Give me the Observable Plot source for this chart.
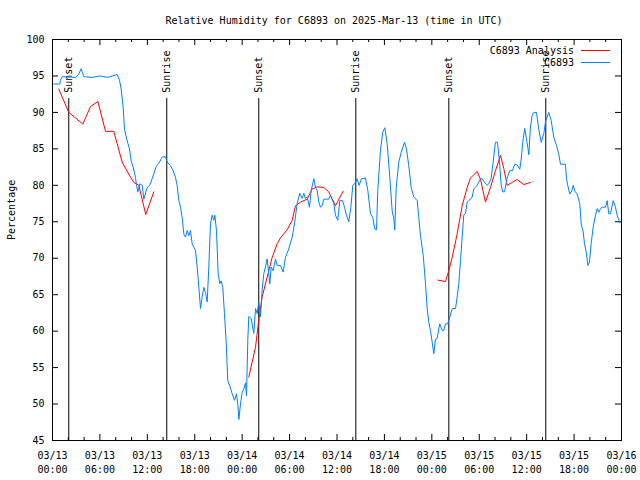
<!DOCTYPE html>
<html>
<head>
<meta charset="utf-8">
<script src="https://cdn.jsdelivr.net/npm/d3@7"></script>
<script src="https://cdn.jsdelivr.net/npm/@observablehq/plot@0.6"></script>
<style>
  html, body { margin: 0; padding: 0; background: #fff; }
  #chart { width: 640px; height: 480px; }
</style>
</head>
<body>
<div id="chart"></div>
<script>
// ---------- data (hours after 2025-03-13 00:00 UTC) ----------
const titleText = "Relative Humidity for C6893 on 2025-Mar-13 (time in UTC)";
const yLabelText = "Percentage";
const seriesNames = ["C6893 Analysis", "C6893"];
const seriesColors = ["#ff0000", "#0080ff"];

const obsHours = [0.17,0.93,1.0,1.22,2.9,3.3,3.63,3.96,5.0,6.0,7.0,8.18,8.48,8.69,8.94,9.11,9.45,9.74,9.95,10.21,10.5,10.63,10.8,11.05,11.35,11.56,11.98,12.3,12.61,13.16,13.45,13.88,14.3,14.51,14.93,15.27,15.56,15.77,15.99,16.2,16.41,16.62,16.83,17.04,17.25,17.46,17.67,18.09,18.31,18.52,18.73,18.94,19.15,19.36,19.57,19.78,19.99,20.2,20.41,20.54,20.75,20.96,21.17,21.34,21.55,21.76,21.97,22.18,22.43,22.74,23.03,23.28,23.45,23.58,23.79,24.0,24.21,24.42,24.55,24.72,24.84,25.14,25.47,25.69,25.9,26.1,26.32,26.53,26.74,26.95,27.16,27.37,27.5,27.67,27.92,28.22,28.43,28.85,29.19,29.48,29.9,30.33,30.62,30.96,31.29,31.59,31.8,32.0,32.22,32.52,32.73,33.07,33.28,33.49,33.7,33.91,34.12,34.33,34.96,35.18,35.6,35.81,36.1,36.35,36.7,36.95,37.2,37.49,37.75,38.0,38.3,38.55,38.8,39.1,39.6,39.9,40.24,40.53,40.78,41.0,41.16,41.5,41.79,42.05,42.35,42.68,42.98,43.19,43.31,43.49,43.82,44.12,44.54,44.79,45.08,45.39,45.72,46.15,46.35,46.56,46.91,47.2,47.41,47.62,47.83,48.04,48.25,48.46,48.67,49.0,49.31,49.52,49.73,50.0,50.27,50.58,51.0,51.21,51.41,51.63,51.84,52.04,52.25,52.47,52.8,53.11,53.31,53.74,54.16,54.37,54.6,55.0,55.2,55.5,55.76,56.05,56.3,56.56,56.78,56.98,57.2,57.53,57.86,58.2,58.5,58.8,59.13,59.31,59.56,59.76,59.95,60.14,60.27,60.48,60.7,60.9,61.24,61.53,61.84,62.17,62.38,62.8,63.1,63.43,63.77,64.06,64.28,64.91,65.04,65.2,65.46,65.7,65.89,66.1,66.39,66.72,66.9,67.15,67.32,67.57,67.74,67.95,68.16,68.42,68.71,68.92,69.13,69.34,69.56,69.97,70.19,70.39,70.6,70.95,71.24,71.45,71.78,71.96];
const obsRH = [93.9,93.9,94.4,94.9,94.8,95.2,96.0,94.9,94.8,95.0,94.8,95.2,94.4,93.2,90.7,87.7,86.1,85.0,83.4,82.5,81.1,80.0,79.1,80.2,80.0,78.1,79.7,80.0,80.9,82.7,83.0,83.9,83.9,83.2,82.7,82.0,81.1,80.0,77.9,77.0,75.6,73.3,72.9,73.8,73.1,73.8,72.0,71.1,68.8,66.0,63.1,64.7,66.0,65.3,64.0,68.8,74.7,75.9,75.2,75.9,73.8,67.9,66.5,66.9,66.0,62.4,58.7,53.2,52.5,51.4,50.5,51.4,50.0,47.9,50.0,51.6,52.1,52.9,51.1,59.0,62.0,61.7,59.7,63.1,62.4,64.0,62.0,65.7,67.9,68.8,69.9,67.9,66.5,68.8,68.3,69.9,69.0,69.0,68.1,70.1,71.3,72.9,74.7,77.5,78.9,78.2,78.9,78.2,78.4,77.0,79.3,80.9,79.7,79.3,77.7,77.0,77.2,78.1,78.1,78.6,77.5,75.9,75.2,77.9,77.9,77.0,75.9,75.0,77.0,80.0,80.3,80.9,80.0,80.9,81.0,79.3,76.1,75.6,74.0,73.9,79.3,84.8,87.3,87.9,85.7,81.1,76.5,75.4,73.9,79.7,83.2,84.5,85.9,85.0,82.7,79.7,78.4,77.9,75.6,73.1,70.4,66.5,63.1,61.2,60.1,58.5,56.9,58.9,59.0,61.0,60.1,60.1,61.0,61.0,61.9,63.1,63.1,64.7,66.5,69.7,72.9,75.9,76.1,77.7,78.0,78.4,79.5,80.0,80.9,80.9,80.5,80.0,80.2,80.9,83.2,85.9,85.9,83.3,80.0,79.1,79.1,81.0,82.0,82.0,82.9,82.8,82.2,83.6,86.4,87.8,86.5,85.2,84.2,88.0,89.6,90.0,90.0,87.7,85.9,87.1,88.7,90.0,88.9,86.6,85.5,84.3,82.9,82.9,80.9,80.0,78.8,79.2,80.0,79.2,78.8,77.5,74.7,73.6,72.0,70.6,69.0,69.5,72.0,74.3,75.9,76.8,76.3,76.8,77.0,77.0,77.9,76.1,76.1,77.9,77.0,75.9,74.9,75.0];

const anaHours = [0.8,2.06,3.84,4.81,5.74,6.71,7.76,8.18,8.81,9.87,10.29,10.92,11.8,12.82,
  24.84,25.69,26.1,26.53,27.16,27.8,28.43,28.85,29.69,30.33,30.75,31.38,32.22,32.86,33.49,34.33,34.96,35.81,36.78,
  48.76,49.73,50.15,50.57,51.2,51.84,52.47,52.89,53.74,54.16,54.79,55.42,56.05,56.69,57.11,57.53,58.17,58.8,59.64,60.48,60.8];
const anaRH = [93.2,90.0,88.4,90.8,91.5,87.4,87.4,85.7,83.2,81.1,80.4,80.0,76.0,79.1,
  53.7,57.8,61.5,64.7,67.4,70.1,72.0,72.8,73.9,75.2,77.2,77.7,78.1,79.5,79.8,79.7,79.1,77.2,79.2,
  67.0,66.8,68.3,70.1,73.3,77.2,79.7,81.0,81.9,80.8,77.7,79.7,82.0,84.1,82.3,80.0,80.4,80.8,80.1,80.4,80.5];
const anaSegment = [1,1,1,1,1,1,1,1,1,1,1,1,1,1,
  2,2,2,2,2,2,2,2,2,2,2,2,2,2,2,2,2,2,2,
  3,3,3,3,3,3,3,3,3,3,3,3,3,3,3,3,3,3,3,3];

const eventHours = [2.06, 14.46, 26.1, 38.38, 50.15, 62.42];
const eventLabels = ["Sunset", "Sunrise", "Sunset", "Sunrise", "Sunset", "Sunrise"];

const xMajorHours = [0, 6, 12, 18, 24, 30, 36, 42, 48, 54, 60, 66, 72];
const xMinorHours = [2, 4, 8, 10, 14, 16, 20, 22, 26, 28, 32, 34, 38, 40, 44, 46, 50, 52, 56, 58, 62, 64, 68, 70];
const yTicks = [45, 50, 55, 60, 65, 70, 75, 80, 85, 90, 95, 100];

// ---------- layout ----------
const W = 640, H = 480;
const mL = 52, mR = 19, mT = 39, mB = 40;
const frameW = W - mL - mR, frameH = H - mT - mB;
const majorLen = 6, minorLen = 3;

// ---------- build ----------
const base = Date.UTC(2025, 2, 13, 0, 0, 0);
const toDate = h => new Date(base + h * 3600e3);

const obs = obsHours.map((h, i) => ({date: toDate(h), rh: obsRH[i]}));
const ana = anaHours.map((h, i) => ({date: toDate(h), rh: anaRH[i], seg: anaSegment[i]}));
const events = eventHours.map((h, i) => ({date: toDate(h), label: eventLabels[i]}));
const xMajor = xMajorHours.map(toDate);
const xMinor = xMinorHours.map(toDate);
const fmt = d3.utcFormat("%m/%d\n%H:%M");

const eventTop = 91.9;     // top of sunrise/sunset rule (in % units)
const eventLabelY = 92.7;  // start of rotated label

const tickStyle = {stroke: "#000", strokeWidth: 1};

const chart = Plot.plot({
  width: W,
  height: H,
  marginLeft: mL,
  marginRight: mR,
  marginTop: mT,
  marginBottom: mB,
  style: {fontFamily: "'DejaVu Sans Mono', monospace", fontSize: "10px", background: "#fff", color: "#000"},
  x: {type: "utc", domain: [toDate(0), toDate(72)]},
  y: {domain: [45, 100]},
  marks: [
    // axis labels (no outward ticks)
    Plot.axisX(xMajor, {anchor: "bottom", tickSize: 0, tickPadding: 8, tickFormat: fmt, label: null, lineHeight: 1.45}),
    Plot.axisY(yTicks, {anchor: "left", tickSize: 0, tickPadding: 8, label: null}),
    // inward ticks, gnuplot style (bottom/top mirrored, left/right mirrored)
    Plot.ruleX(xMajor, {...tickStyle, insetTop: frameH - majorLen}),
    Plot.ruleX(xMinor, {...tickStyle, insetTop: frameH - minorLen}),
    Plot.ruleX(xMajor, {...tickStyle, insetBottom: frameH - majorLen}),
    Plot.ruleX(xMinor, {...tickStyle, insetBottom: frameH - minorLen}),
    Plot.ruleY(yTicks, {...tickStyle, insetRight: frameW - majorLen}),
    Plot.ruleY(yTicks, {...tickStyle, insetLeft: frameW - majorLen}),
    // sunrise / sunset
    Plot.ruleX(events, {x: "date", y1: eventTop, y2: 45, stroke: "#000", strokeWidth: 1}),
    Plot.text(events, {x: "date", y: eventLabelY, text: "label", rotate: -90, textAnchor: "start", fill: "#000"}),
    // series
    Plot.line(ana, {x: "date", y: "rh", z: "seg", stroke: seriesColors[0], strokeWidth: 1}),
    Plot.line(obs, {x: "date", y: "rh", stroke: seriesColors[1], strokeWidth: 1}),
    Plot.frame({stroke: "#000"}),
    // title & y label
    Plot.text([titleText], {frameAnchor: "top", lineAnchor: "middle", dy: -19, dx: -3, fill: "#000"}),
    Plot.text([yLabelText], {frameAnchor: "left", dx: -41, rotate: -90, fill: "#000"})
  ]
});

// legend inside the top-right corner of the frame
const svg = d3.select(chart);
const lg = svg.append("g").attr("font-family", "'DejaVu Sans Mono', monospace").attr("font-size", 10);
seriesNames.forEach((name, i) => {
  const yy = 50.5 + i * 12;
  lg.append("text").attr("x", 574).attr("y", yy).attr("dy", "0.32em").attr("text-anchor", "end").attr("fill", "#000").text(name);
  lg.append("line").attr("x1", 581).attr("x2", 610).attr("y1", yy).attr("y2", yy).attr("stroke", seriesColors[i]).attr("stroke-width", 1);
});

document.getElementById("chart").appendChild(chart);
</script>
</body>
</html>
